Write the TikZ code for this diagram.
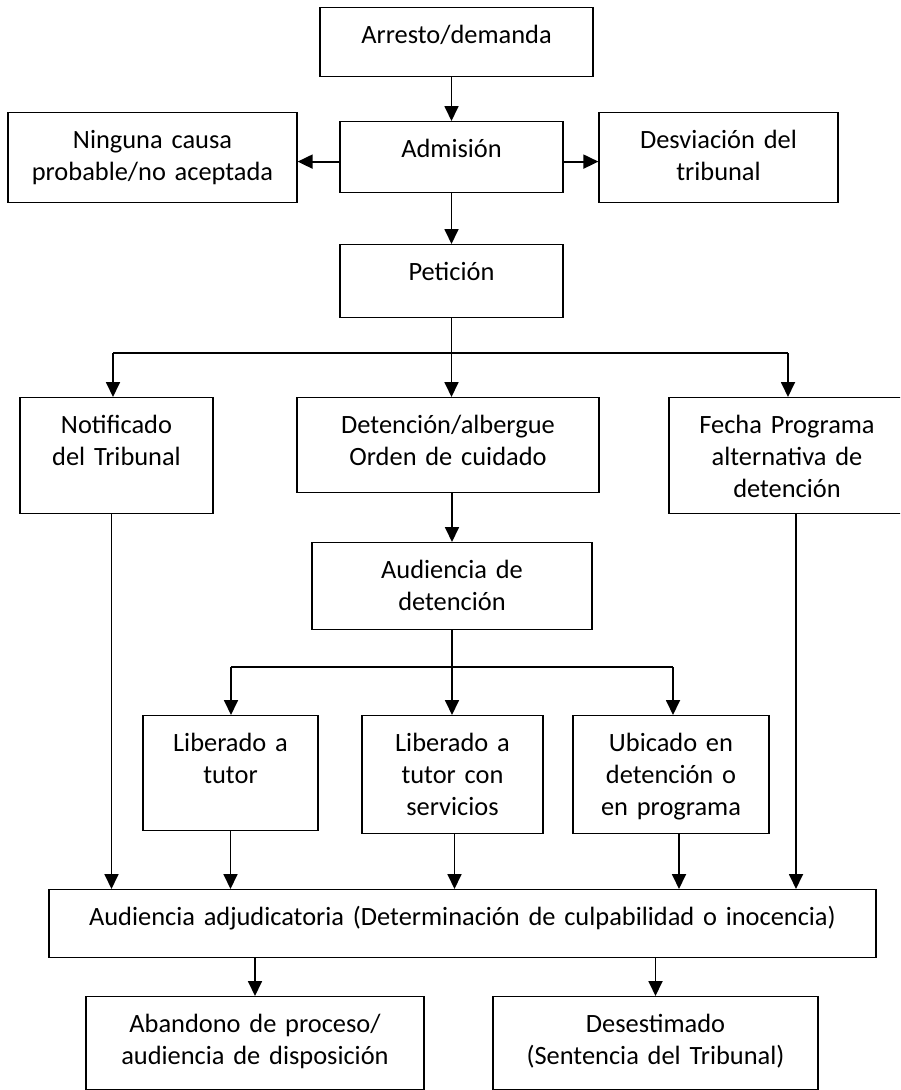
\documentclass[tikz,border=0pt]{standalone}
\usepackage{fontspec}
\setmainfont{Carlito}
\usetikzlibrary{arrows.meta}
\tikzset{
  box/.style={draw, line width=1.2pt, inner sep=0pt, align=center, anchor=north,
    text height=36pt, font=\fontsize{26.4}{32}\selectfont},
  conn/.style={line width=1.8pt},
  arr/.style={conn, -{Triangle[length=15pt,width=14pt]}}
}
\begin{document}
\begin{tikzpicture}[x=1pt,y=-1pt]
\clip (0,0) rectangle (900,1090);
\fill[white] (0,0) rectangle (900,1090);
% boxes
\node[box, text width=273pt, text depth=33pt] (arr) at (456.5,7) {Arresto/demanda};
\node[box, text width=223pt, text depth=35pt] (adm) at (451.5,121) {Admisión};
\node[box, text width=289pt, text depth=54pt] (nin) at (152.5,112) {Ninguna causa\\probable/no aceptada};
\node[box, text width=239pt, text depth=54pt] (des) at (718.5,112) {Desviación del\\tribunal};
\node[box, text width=223pt, text depth=37pt] (pet) at (451.5,244) {Petición};
\node[box, text width=193pt, text depth=80pt] (not) at (116.5,397) {Notificado\\del Tribunal};
\node[box, text width=302pt, text depth=59pt] (det) at (448,397) {Detención/albergue\\Orden de cuidado};
\node[box, text width=236pt, text depth=80pt] (fec) at (787,397) {Fecha Programa\\alternativa de\\detención};
\node[box, text width=280pt, text depth=51pt] (aud) at (452,542) {Audiencia de\\detención};
\node[box, text width=175pt, text depth=79pt] (lt) at (230.5,715) {Liberado a\\tutor};
\node[box, text width=181pt, text depth=82pt] (ls) at (452.5,715) {Liberado a\\tutor con\\servicios};
\node[box, text width=196pt, text depth=82pt] (ub) at (671,715) {Ubicado en\\detención o\\en programa};
\node[box, text width=827pt, text depth=32pt] (adj) at (462.5,889) {Audiencia adjudicatoria (Determinación de culpabilidad o inocencia)};
\node[box, text width=338pt, text depth=57pt] (aba) at (255,996) {Abandono de proceso/\\audiencia de disposición};
\node[box, text width=325pt, text depth=57pt] (dse) at (655.5,996) {Desestimado\\(Sentencia del Tribunal)};
% junction coordinates
\coordinate (j1l) at (113,353);
\coordinate (j1r) at (788,353);
\coordinate (j2l) at (231,667);
\coordinate (j2r) at (673,667);
% connectors
\draw[arr] (arr.south -| adm.north) -- (adm.north);
\draw[arr] ([yshift=-4.5pt]adm.west) -- ([yshift=-4.5pt]adm.west -| nin.east);
\draw[arr] ([yshift=-4.5pt]adm.east) -- ([yshift=-4.5pt]adm.east -| des.west);
\draw[arr] (adm.south) -- (pet.north);
\draw[arr] (pet.south) -- (pet.south |- det.north);
\draw[conn] (j1l) -- (j1r);
\draw[arr] (j1l) -- (j1l |- not.north);
\draw[arr] (j1r) -- (j1r |- fec.north);
\draw[arr] (aud.north |- det.south) -- (aud.north);
\draw[arr] (aud.south) -- (aud.south |- ls.north);
\draw[conn] (j2l) -- (j2r);
\draw[arr] (j2l) -- (j2l |- lt.north);
\draw[arr] (j2r) -- (j2r |- ub.north);
\draw[arr] ([xshift=-5pt]not.south) -- ([xshift=-5pt]not.south |- adj.north);
\draw[arr] (lt.south) -- (lt.south |- adj.north);
\draw[arr] ([xshift=2pt]ls.south) -- ([xshift=2pt]ls.south |- adj.north);
\draw[arr] ([xshift=8pt]ub.south) -- ([xshift=8pt]ub.south |- adj.north);
\draw[arr] ([xshift=9pt]fec.south) -- ([xshift=9pt]fec.south |- adj.north);
\draw[arr] (adj.south -| aba.north) -- (aba.north);
\draw[arr] (adj.south -| dse.north) -- (dse.north);
\end{tikzpicture}
\end{document}
